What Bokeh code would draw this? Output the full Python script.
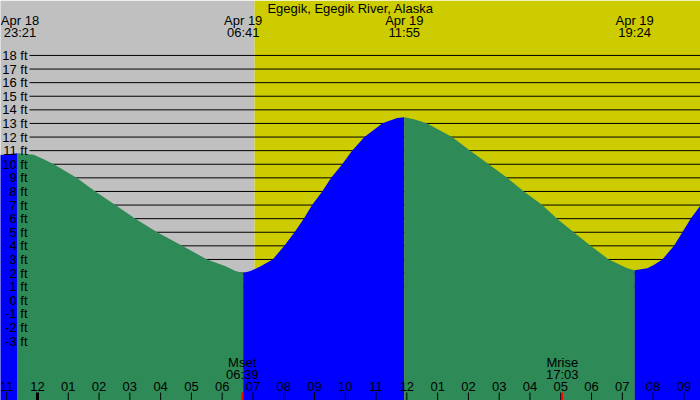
import numpy as np
from bokeh.plotting import figure
from bokeh.models import Range1d
from bokeh.core.properties import value
from bokeh.embed import file_html
from bokeh.resources import INLINE

# ---------------- data ----------------
title = "Egegik, Egegik River, Alaska"

# hours since Apr 19 00:00 ; tide height in ft
tide_t = [-1.25, -0.65, -0.12, 0.20, 0.53, 1.27, 1.88, 2.53, 3.18, 3.89, 4.70, 5.51, 6.11, 6.43,
          6.683, 6.92, 7.25, 7.64, 8.02, 8.35, 8.65, 8.92, 9.25, 9.54, 9.90, 10.22, 10.62, 11.20,
          11.36, 11.69, 11.917, 12.23, 12.44, 12.66, 13.47, 14.06, 14.66, 15.26, 15.80, 16.40,
          16.88, 17.42, 17.97, 18.56, 18.94, 19.16, 19.40, 19.81, 20.02, 20.30, 20.68, 20.95,
          21.22, 21.56]
tide_ft = [10.68, 10.80, 10.70, 10.36, 10.0, 9.0, 8.0, 7.0, 6.0, 5.0, 4.0, 3.0, 2.5, 2.15,
           2.0, 2.15, 2.5, 3.0, 4.0, 5.0, 6.0, 7.0, 8.0, 9.0, 10.0, 11.0, 12.0, 13.0,
           13.15, 13.4, 13.45, 13.3, 13.17, 13.0, 12.0, 11.0, 10.0, 9.0, 8.0, 7.0,
           6.0, 5.0, 4.0, 3.0, 2.6, 2.35, 2.2, 2.35, 2.6, 3.0, 4.0, 5.0,
           6.0, 7.05]

extreme_t = [-0.65, 6.683, 11.917, 19.40]
extreme_kind = ["high", "low", "high", "low"]
extreme_date = ["Apr 18", "Apr 19", "Apr 19", "Apr 19"]
extreme_time = ["23:21", "06:41", "11:55", "19:24"]

sunrise_t = 7.05
sunset_t = 22.3

moon_t = [6.65, 17.05]
moon_name = ["Mset", "Mrise"]
moon_time = ["06:39", "17:03"]

hour_ticks = list(range(-1, 22))
hour_labels = ["11", "12", "01", "02", "03", "04", "05", "06", "07", "08", "09", "10",
               "11", "12", "01", "02", "03", "04", "05", "06", "07", "08", "09"]

ft_levels = list(range(-3, 19))
grid_levels = list(range(1, 19))

# ---------------- layout ----------------
W, H = 700, 400
X0, X1 = -1.202, 21.540
Y0, Y1 = -7.37, 22.04
PXH = W / (X1 - X0)
PXF = H / (Y1 - Y0)


def tx(px):
    return X0 + px / PXH


def vy(py):
    return Y1 - py / PXF


FONT = value("Liberation Sans")
FS = "13px"

p = figure(width=W, height=H, x_range=Range1d(X0, X1), y_range=Range1d(Y0, Y1),
           output_backend="svg", toolbar_location=None, min_border=0,
           x_axis_type=None, y_axis_type=None, outline_line_color=None)
p.grid.visible = False

# night / day background
p.quad(left=[X0 - 1], right=[sunrise_t], bottom=[Y0], top=[Y1], fill_color="#C0C0C0", line_color=None)
p.quad(left=[sunrise_t], right=[sunset_t], bottom=[Y0], top=[Y1], fill_color="#CCCC00", line_color=None)

# horizontal grid lines
p.segment(x0=[tx(29)] * len(grid_levels), x1=[X1 + 1] * len(grid_levels),
          y0=grid_levels, y1=grid_levels, line_color="black", line_width=1)

# tide fill, coloured by rising / falling
t = np.array(tide_t)
h = np.array(tide_ft)
bounds = [t.min()] + extreme_t + [t.max()]
for i in range(len(bounds) - 1):
    lo, hi = bounds[i], bounds[i + 1]
    m = (t >= lo - 1e-9) & (t <= hi + 1e-9)
    if i == 0:
        rising = extreme_kind[0] == "high"
    else:
        rising = extreme_kind[i - 1] == "low"
    color = "#0000FF" if rising else "#2E8B57"
    p.varea(x=t[m], y1=np.full(m.sum(), Y0), y2=h[m], fill_color=color)

# y labels
p.text(x=[tx(27)] * len(ft_levels), y=ft_levels, text=[f"{v} ft" for v in ft_levels],
       text_align="right", text_baseline="middle", text_font=FONT, text_font_size=FS,
       text_color="black")

# title
p.text(x=[tx(350)], y=[vy(7.5)], text=[title], text_align="center", text_baseline="middle",
       text_font=FONT, text_font_size=FS, text_color="black")

# tide extreme labels (keep the leftmost one inside the window)
offs = [2.5, 0, 0, 0]
p.text(x=extreme_t, y=[vy(19.5)] * 4, text=extreme_date, text_align="center", x_offset=offs,
       text_baseline="middle", text_font=FONT, text_font_size=FS, text_color="black")
p.text(x=extreme_t, y=[vy(31.5)] * 4, text=extreme_time, text_align="center", x_offset=offs,
       text_baseline="middle", text_font=FONT, text_font_size=FS, text_color="black")

# moon labels
p.text(x=moon_t, y=[vy(361.5)] * 2, text=moon_name, text_align="center",
       text_baseline="middle", text_font=FONT, text_font_size=FS, text_color="black")
p.text(x=moon_t, y=[vy(373.5)] * 2, text=moon_time, text_align="center",
       text_baseline="middle", text_font=FONT, text_font_size=FS, text_color="black")

# hour labels and ticks
p.text(x=hour_ticks, y=[vy(386)] * len(hour_ticks), text=hour_labels, text_align="center",
       text_baseline="middle", text_font=FONT, text_font_size=FS, text_color="black")
widths = [3 if lab == "12" and hv % 24 == 0 else 1 for hv, lab in zip(hour_ticks, hour_labels)]
p.segment(x0=hour_ticks, x1=hour_ticks, y0=[vy(392)] * len(hour_ticks), y1=[Y0] * len(hour_ticks),
          line_color="black", line_width=widths)
p.segment(x0=moon_t, x1=moon_t, y0=[vy(392)] * 2, y1=[Y0] * 2, line_color="#FF0000", line_width=1.5)

open("out.html", "w").write(file_html(p, INLINE))
